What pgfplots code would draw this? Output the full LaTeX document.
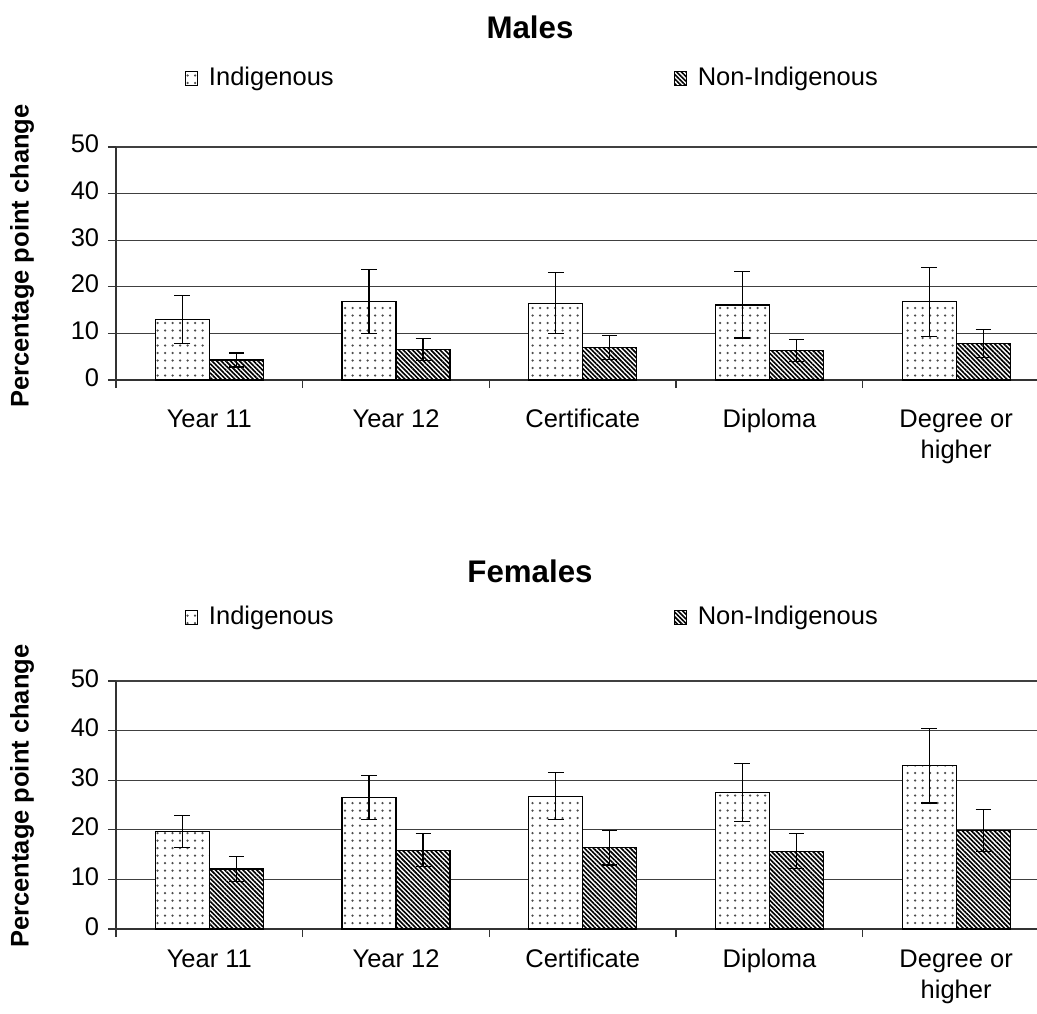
\documentclass[border=0pt]{standalone}
\usepackage{fontspec}
\setmainfont{Liberation Sans}
\usepackage{pgfplots}
\pgfplotsset{compat=1.18}
\usetikzlibrary{patterns.meta}

\pgfplotsset{
 edustyle/.style={
  scale only axis, width=368.4pt,
  xmin=-0.5, xmax=4.433, ymin=0, ymax=50, ytick={0,10,...,50},
  axis x line*=bottom, axis y line*=left,
  axis line style={black!80, line width=0.5pt},
  ymajorgrids, grid style={black!75, line width=0.45pt},
  tick align=outside, major tick length=3.2pt, tick style={black!80,line width=0.5pt},
  xtick={0,...,4}, xticklabels={Year 11, Year 12, Certificate, Diploma, {Degree or\\higher}},
  typeset ticklabels with strut,
  xticklabel style={align=center, anchor=north, font=\fontsize{10.2}{12.4}\selectfont},
  yticklabel style={font=\fontsize{10.2}{12}\selectfont},
  major x tick style={draw=none},
  extra x ticks={-0.5,0.5,1.5,2.5,3.5}, extra x tick labels={},
  extra x tick style={major x tick style={draw=black!80}},
  ybar=0pt, bar width=21.6pt,
  /pgf/number format/assume math mode=true,
  legend columns=2,
  legend style={draw=none, fill=none, inner sep=0pt, outer sep=0pt, anchor=west,
    font=\fontsize{10.2}{12}\selectfont, nodes={inner sep=0pt},
    /tikz/every odd column/.append style={column sep=4.2pt},
    /tikz/every even column/.append style={column sep=136pt}},
  legend image code/.code={\draw[#1, line width=0.4pt] (0pt,-2.8pt) rectangle (5pt,2.8pt);},
  every axis title/.style={anchor=center, font=\bfseries\fontsize{12.5}{15}\selectfont},
  ylabel={Percentage point change},
  ylabel style={font=\bfseries\fontsize{10.2}{12}\selectfont, anchor=center},
 },
 indig/.style={draw=black, line width=0.45pt, fill=white,
   postaction={pattern={Dots[distance=3pt, radius=0.5pt]}, pattern color=black!70},
   error bars/.cd, y dir=both, y explicit,
   error bar style={black, line width=0.45pt},
   error mark options={rotate=90, mark size=3.2pt, black, line width=0.45pt}},
 nonindig/.style={draw=black, line width=0.45pt, fill=white,
   postaction={pattern={Lines[angle=-45, distance=1.3pt, line width=0.65pt]}, pattern color=black},
   error bars/.cd, y dir=both, y explicit,
   error bar style={black, line width=0.45pt},
   error mark options={rotate=90, mark size=3pt, black, line width=0.45pt}},
}

\begin{document}
\begin{tikzpicture}
\useasboundingbox (0,0) rectangle (414.8pt,405.2pt);
% Males
\begin{axis}[edustyle, at={(46.4pt,253.2pt)}, anchor=south west, height=93.2pt,
  title={Males}, title style={at={(axis description cs:0.4495,1.515)}},
  legend style={at={(axis description cs:0.0749,1.296)}},
  xticklabel style={yshift=-3.4pt},
  ylabel style={at={(axis description cs:-0.102,0.532)}}]
\addplot[indig] coordinates {
 (0,13.0) +- (0,5.2)
 (1,16.8) +- (0,6.9)
 (2,16.5) +- (0,6.6)
 (3,16.1) +- (0,7.1)
 (4,16.8) +- (0,7.4)};
\addplot[nonindig] coordinates {
 (0,4.3) +- (0,1.5)
 (1,6.5) +- (0,2.4)
 (2,7.0) +- (0,2.6)
 (3,6.3) +- (0,2.4)
 (4,7.9) +- (0,3.0)};
\legend{Indigenous, Non-Indigenous}
\end{axis}
% Females
\begin{axis}[edustyle, at={(46.4pt,33.6pt)}, anchor=south west, height=99.2pt,
  title={Females}, title style={at={(axis description cs:0.4495,1.4435)}},
  legend style={at={(axis description cs:0.0749,1.258)}},
  ylabel style={at={(axis description cs:-0.102,0.536)}}]
\addplot[indig] coordinates {
 (0,19.6) +- (0,3.2)
 (1,26.5) +- (0,4.4)
 (2,26.8) +- (0,4.8)
 (3,27.5) +- (0,5.8)
 (4,32.9) +- (0,7.5)};
\addplot[nonindig] coordinates {
 (0,12.1) +- (0,2.5)
 (1,15.9) +- (0,3.3)
 (2,16.4) +- (0,3.5)
 (3,15.7) +- (0,3.5)
 (4,19.9) +- (0,4.2)};
\legend{Indigenous, Non-Indigenous}
\end{axis}
\end{tikzpicture}
\end{document}
